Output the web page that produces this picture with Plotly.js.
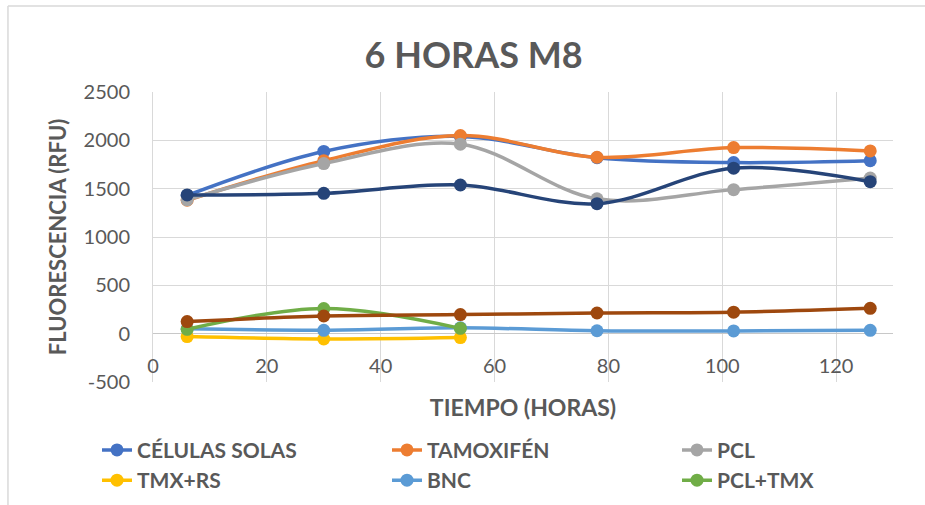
<!DOCTYPE html>
<html>
<head>
<meta charset="utf-8">
<script src="https://cdn.plot.ly/plotly-3.0.1.min.js"></script>
<style>
html,body{margin:0;padding:0;background:#fff;}
#chart{width:925px;height:505px;}
</style>
</head>
<body>
<div id="chart"></div>
<script>
// Data
var tiempo = [6, 30, 54, 78, 102, 126];
var tiempoCorto = [6, 30, 54];
var celulasSolas = [1430, 1885, 2040, 1820, 1770, 1790];
var tamoxifen = [1380, 1790, 2050, 1825, 1925, 1890];
var pcl = [1385, 1760, 1960, 1395, 1490, 1610];
var tmxRs = [-30, -55, -40];
var bnc = [50, 35, 60, 30, 28, 35];
var pclTmx = [45, 260, 55];
var serie7 = [1435, 1452, 1538, 1345, 1712, 1572];
var serie8 = [125, 183, 197, 214, 222, 262];
var xTicks = [0, 20, 40, 60, 80, 100, 120];
var yTicks = [-500, 0, 500, 1000, 1500, 2000, 2500];

var FONT = 'Lato, "Open Sans", sans-serif';
var GREY = '#595959';

function serie(name, x, y, color, legendId, show) {
  return {
    type: 'scatter', mode: 'lines+markers', name: name, x: x, y: y,
    line: {color: color, width: 3.5, shape: 'spline', smoothing: 1},
    marker: {color: color, size: 13},
    legend: legendId, showlegend: show, hoverinfo: 'x+y+name'
  };
}

var data = [
  serie('CÉLULAS SOLAS', tiempo, celulasSolas, '#4472C4', 'legend', true),
  serie('TAMOXIFÉN', tiempo, tamoxifen, '#ED7D31', 'legend2', true),
  serie('PCL', tiempo, pcl, '#A5A5A5', 'legend3', true),
  serie('TMX+RS', tiempoCorto, tmxRs, '#FFC000', 'legend', true),
  serie('BNC', tiempo, bnc, '#5B9BD5', 'legend2', true),
  serie('PCL+TMX', tiempoCorto, pclTmx, '#70AD47', 'legend3', true),
  serie('Serie7', tiempo, serie7, '#264478', 'legend', false),
  serie('Serie8', tiempo, serie8, '#9E480E', 'legend', false)
];

// one legend per column; a wide entry forces one entry per row
function legendAt(xPix) {
  return {
    orientation: 'h', xref: 'container', yref: 'container',
    x: xPix / 925, y: 0.149, xanchor: 'left', yanchor: 'top',
    entrywidth: 760, entrywidthmode: 'pixels',
    font: {family: FONT, size: 21, color: GREY, weight: 'bold'},
    bgcolor: 'rgba(0,0,0,0)', traceorder: 'normal'
  };
}

var layout = {
  width: 925, height: 505,
  margin: {l: 153, r: 32, t: 92, b: 123},
  paper_bgcolor: '#ffffff', plot_bgcolor: '#ffffff',
  font: {family: FONT, color: GREY, size: 19},
  title: {text: '6 HORAS M8', font: {family: FONT, size: 36, color: GREY, weight: 'bold'},
          x: 0.512, xanchor: 'center', y: 0.89, yanchor: 'middle', xref: 'container', yref: 'container'},
  xaxis: {
    range: [0, 130], tickvals: xTicks, ticktext: xTicks.map(String),
    anchor: 'free', position: 1/6,
    showgrid: true, gridcolor: '#D9D9D9', gridwidth: 1,
    zeroline: false, showline: false, ticks: '',
    ticklabelstandoff: 18,
    tickfont: {family: FONT, size: 20, color: GREY},
    title: {text: 'TIEMPO (HORAS)', font: {family: FONT, size: 23, color: GREY, weight: 'bold'}, standoff: 24}
  },
  yaxis: {
    range: [-500, 2500], tickvals: yTicks, ticktext: yTicks.map(String),
    showgrid: true, gridcolor: '#D9D9D9', gridwidth: 1,
    zeroline: true, zerolinecolor: '#C8C8C8', zerolinewidth: 1,
    showline: true, linecolor: '#D9D9D9', linewidth: 1,
    ticks: '', ticklabelstandoff: 18,
    tickfont: {family: FONT, size: 20, color: GREY},
    title: {text: 'FLUORESCENCIA (RFU)', font: {family: FONT, size: 22, color: GREY, weight: 'bold'}, standoff: 10}
  },
  legend: legendAt(97),
  legend2: legendAt(387),
  legend3: legendAt(677),
  shapes: [
    {type: 'line', xref: 'paper', yref: 'paper', x0: -0.196, x1: 1.05, y0: 1.2966, y1: 1.2966,
     line: {color: '#D9D9D9', width: 1.5}},
    {type: 'line', xref: 'paper', yref: 'paper', x0: -0.196, x1: -0.196, y0: 1.2966, y1: -0.45,
     line: {color: '#D9D9D9', width: 1.5}}
  ],
  showlegend: true
};

Plotly.newPlot('chart', data, layout, {displayModeBar: false, staticPlot: true});
</script>
</body>
</html>
